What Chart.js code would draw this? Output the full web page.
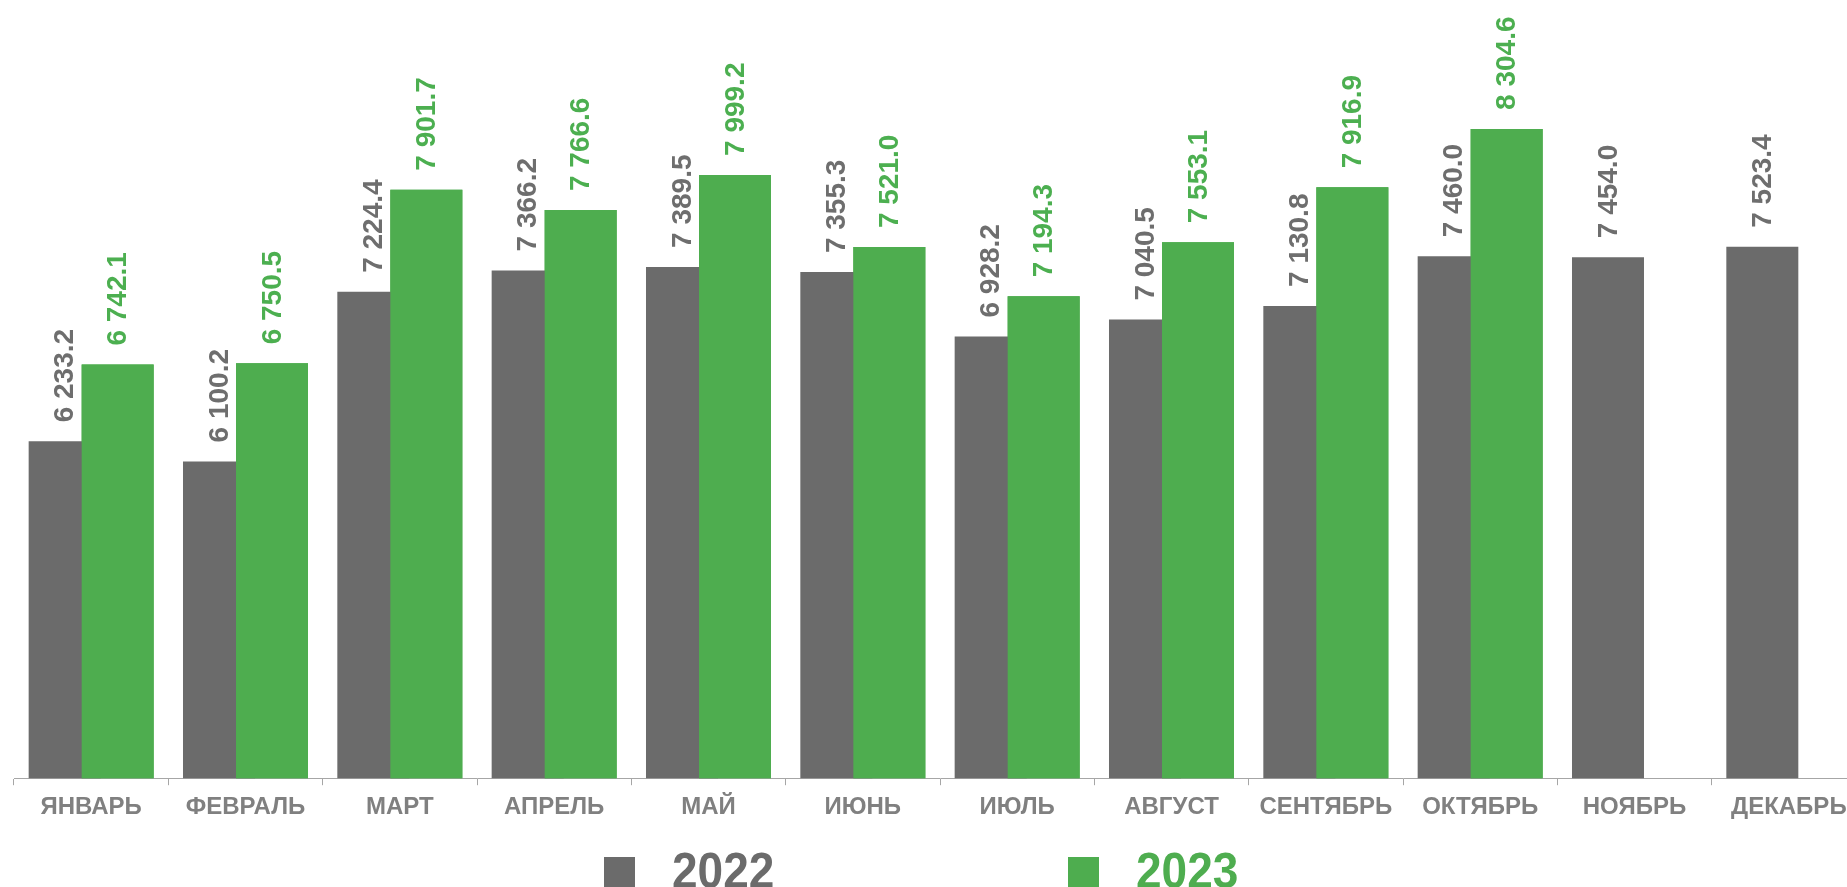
<!DOCTYPE html>
<html>
<head>
<meta charset="utf-8">
<script src="https://cdn.jsdelivr.net/npm/chart.js@4/dist/chart.umd.min.js"></script>
<style>
  html, body { margin: 0; padding: 0; background: #fff; overflow: hidden; }
  #wrap { position: relative; width: 1880px; height: 887px; }
  .leg { position: absolute; top: 845px; height: 60px; font-family: "Liberation Sans", Arial, sans-serif; font-weight: bold; }
  .leg .box { position: absolute; left: 0; top: 12px; width: 31px; height: 34px; }
  .leg .txt { position: absolute; left: 68px; top: 0; font-size: 46px; line-height: 46px; transform: scale(1, 1.1); transform-origin: left top; white-space: nowrap; }
</style>
</head>
<body>
<div id="wrap">
  <canvas id="chart-area"></canvas>
  <div class="leg" style="left:604px"><div class="box" style="background:#6b6b6b"></div><div class="txt" style="color:#6b6b6b">2022</div></div>
  <div class="leg" style="left:1068px"><div class="box" style="background:#4ead4f"></div><div class="txt" style="color:#4ead4f">2023</div></div>
</div>
<script>
var months = ['ЯНВАРЬ', 'ФЕВРАЛЬ', 'МАРТ', 'АПРЕЛЬ', 'МАЙ', 'ИЮНЬ', 'ИЮЛЬ', 'АВГУСТ', 'СЕНТЯБРЬ', 'ОКТЯБРЬ', 'НОЯБРЬ', 'ДЕКАБРЬ'];
var values2022 = [6233.2, 6100.2, 7224.4, 7366.2, 7389.5, 7355.3, 6928.2, 7040.5, 7130.8, 7460.0, 7454.0, 7523.4];
var values2023 = [6742.1, 6750.5, 7901.7, 7766.6, 7999.2, 7521.0, 7194.3, 7553.1, 7916.9, 8304.6, null, null];
var yMin = 4000, yMax = 9000;

function fmt(v) {
  var s = v.toFixed(1).split('.');
  return s[0].replace(/\B(?=(\d{3})+(?!\d))/g, ' ') + '.' + s[1];
}

// 2023 bars overlap 2022 ones, so paint them again on top,
// then the rotated value labels above each bar
var barLabels = {
  id: 'barLabels',
  afterDatasetsDraw: function(chart) {
    var ctx = chart.ctx;
    var a = chart.chartArea;
    ctx.save();
    ctx.beginPath();
    ctx.rect(a.left, a.top, a.right - a.left, a.bottom - a.top);
    ctx.clip();
    chart.getDatasetMeta(1).controller.draw();
    ctx.restore();

    chart.data.datasets.forEach(function(ds, i) {
      var meta = chart.getDatasetMeta(i);
      meta.data.forEach(function(bar, j) {
        var v = ds.data[j];
        if (v == null) return;
        ctx.save();
        ctx.translate(bar.x, bar.y - 19);
        ctx.rotate(-Math.PI / 2);
        ctx.font = 'bold 28px "Liberation Sans", Arial, sans-serif';
        ctx.fillStyle = ds.labelColor;
        ctx.textAlign = 'left';
        ctx.textBaseline = 'middle';
        ctx.fillText(fmt(v), 0, 1);
        ctx.restore();
      });
    });
  }
};

var config = {
  type: 'bar',
  data: {
    labels: months,
    datasets: [{
      label: '2022',
      data: values2022,
      backgroundColor: '#6b6b6b',
      labelColor: '#6e6e6e'
    }, {
      label: '2023',
      data: values2023,
      backgroundColor: '#4ead4f',
      labelColor: '#4caf50'
    }]
  },
  options: {
    responsive: true,
    maintainAspectRatio: false,
    animation: false,
    categoryPercentage: 0.687,
    barPercentage: 1.358,
    layout: { padding: { left: 14, right: 14, top: 24, bottom: 57 } },
    plugins: {
      legend: { display: false },
      tooltip: { enabled: false }
    },
    scales: {
      y: { display: false, min: yMin, max: yMax },
      x: {
        grid: { drawOnChartArea: false, tickLength: 7, color: '#a6a6a6', lineWidth: 1 },
        border: { color: '#a6a6a6', width: 1 },
        ticks: {
          color: '#808080',
          padding: 8,
          maxRotation: 0,
          autoSkip: false,
          font: { family: '"Liberation Sans", Arial, sans-serif', size: 24, weight: 'bold' }
        }
      }
    }
  },
  plugins: [barLabels]
};

window.onload = function() {
  var ctx = document.getElementById('chart-area').getContext('2d');
  window.myBar = new Chart(ctx, config);
};
</script>
</body>
</html>
